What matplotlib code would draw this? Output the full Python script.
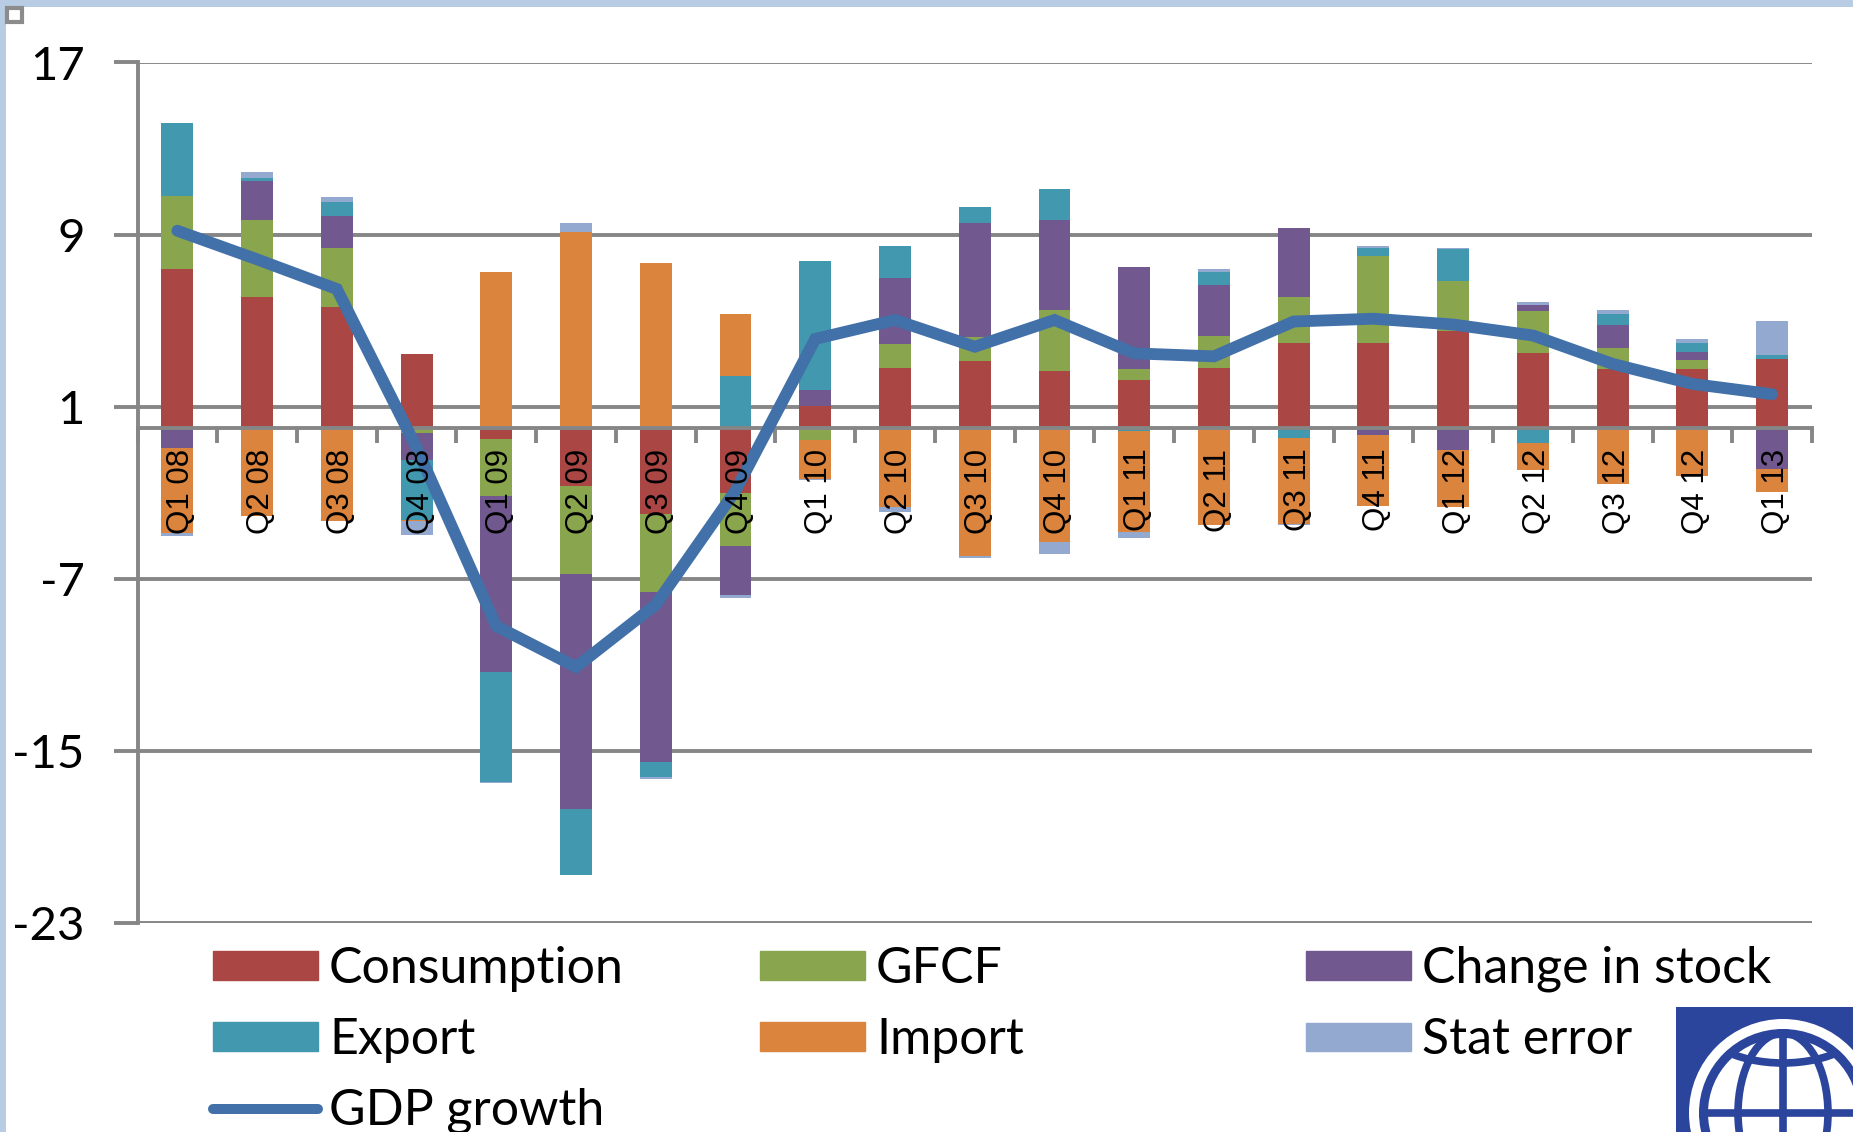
import numpy as np
import matplotlib
matplotlib.use("Agg")
import matplotlib.pyplot as plt
from matplotlib.patches import Patch, Rectangle, Circle, Ellipse
from matplotlib.lines import Line2D

quarters = ["Q1 08", "Q2 08", "Q3 08", "Q4 08", "Q1 09", "Q2 09", "Q3 09", "Q4 09",
            "Q1 10", "Q2 10", "Q3 10", "Q4 10", "Q1 11", "Q2 11", "Q3 11", "Q4 11",
            "Q1 12", "Q2 12", "Q3 12", "Q4 12", "Q1 13"]

consumption = [7.40, 6.09, 5.62, 3.46, -0.48, -2.70, -4.00, -3.03, 1.04, 2.80, 3.14,
               2.66, 2.23, 2.80, 3.97, 3.97, 4.50, 3.49, 2.73, 2.73, 3.20]
gfcf = [3.40, 3.58, 2.75, -0.22, -2.66, -4.10, -3.60, -2.45, -0.54, 1.13, 1.08,
        2.85, 0.53, 1.50, 2.14, 4.03, 2.34, 1.98, 1.00, 0.45, 0.00]
stock = [-0.90, 1.83, 1.48, -1.28, -8.20, -10.90, -7.90, -2.25, 0.73, 3.03, 5.33,
         4.18, 4.75, 2.38, 3.20, -0.30, -1.00, 0.28, 1.05, 0.36, -1.89]
export = [3.38, 0.15, 0.67, -2.76, -5.10, -3.05, -0.70, 2.41, 6.02, 1.49, 0.71,
          1.41, -0.14, 0.60, -0.47, 0.37, 1.47, -0.67, 0.54, 0.43, 0.19]
imports = [-3.96, -4.10, -4.30, -0.03, 7.24, 9.10, 7.68, 2.91, -1.81, -3.64, -5.93,
           -5.31, -4.70, -4.50, -3.98, -3.30, -2.67, -1.29, -2.60, -2.20, -1.07]
stat_error = [-0.13, 0.28, 0.22, -0.67, -0.05, 0.45, -0.10, -0.17, -0.08, -0.26, -0.11,
              -0.54, -0.25, 0.11, -0.05, 0.08, 0.08, 0.14, 0.19, 0.20, 1.60]
gdp = [9.18, 7.85, 6.47, -0.90, -9.20, -11.10, -8.20, -2.90, 4.15, 5.03, 3.79,
       5.03, 3.48, 3.34, 4.96, 5.09, 4.82, 4.31, 2.99, 2.06, 1.58]

y_ticks = [-23, -15, -7, 1, 9, 17]

GRAY = "#868686"
series = [("Consumption", consumption, "#AA4643"),
          ("GFCF", gfcf, "#89A54E"),
          ("Change in stock", stock, "#71588F"),
          ("Export", export, "#4198AF"),
          ("Import", imports, "#DB843D"),
          ("Stat error", stat_error, "#93A9CF")]
LINE = "#4270A8"
W, H = 1853, 1132

fig = plt.figure(figsize=(W / 100, H / 100), dpi=100, facecolor="white")
ax = fig.add_axes([137.5 / W, 1 - 923 / H, (1812 - 137.5) / W, (923 - 62.5) / H])

x = np.arange(len(quarters))
pos = np.zeros(len(quarters))
neg = np.zeros(len(quarters))
for name, vals, col in series:
    vals = np.array(vals)
    base = np.where(vals >= 0, pos, neg)
    ax.bar(x, vals, 0.4, bottom=base, color=col, linewidth=0, zorder=1)
    pos = pos + np.clip(vals, 0, None)
    neg = neg + np.clip(vals, None, 0)

ax.plot(x, gdp, color=LINE, lw=8.5, solid_capstyle="round", solid_joinstyle="miter", zorder=3)

ax.set_xlim(-0.5, len(quarters) - 0.5)
ax.set_ylim(-23, 17)
ax.set_axisbelow(True)
ax.set_yticks(y_ticks)
ax.set_yticklabels([str(v) for v in y_ticks], family="Lato", fontsize=34, color="black")
ax.tick_params(axis="y", length=17, width=2.8, color=GRAY, pad=21)
ax.yaxis.grid(True, color=GRAY, lw=2.8)

ax.set_xticks(np.arange(-0.5, len(quarters)))
ax.set_xticklabels([])
ax.tick_params(axis="x", length=11, width=2.8, color=GRAY, direction="out")
for s in ["top", "right"]:
    ax.spines[s].set_visible(False)
ax.spines["bottom"].set_position(("data", 0))
ax.spines["bottom"].set_color(GRAY)
ax.spines["bottom"].set_linewidth(2.8)
ax.spines["left"].set_color(GRAY)
ax.spines["left"].set_linewidth(2.8)

for xi, q in zip(x, quarters):
    ax.text(xi + 0.05, -0.95, q, rotation=90, ha="center", va="top", family="Liberation Sans",
            fontsize=22.5, color="black", zorder=10)

# legend, one block per column
handles = {n: Patch(color=c) for n, _, c in series}
handles["GDP growth"] = Line2D([], [], color=LINE, lw=7.2, solid_capstyle="round")
columns = [(["Consumption", "Export", "GDP growth"], 213),
           (["GFCF", "Import"], 760),
           (["Change in stock", "Stat error"], 1306)]
for names, left in columns:
    fig.legend([handles[n] for n in names], names, loc="upper left",
               bbox_to_anchor=(left / W, 1 - 946 / H), frameon=False,
               prop={"family": "Lato", "size": 36}, handlelength=2.1, handleheight=0.5,
               handletextpad=0.22, labelspacing=0.5, borderpad=0, borderaxespad=0)

# window frame and logo, in pixel coordinates
ov = fig.add_axes([0, 0, 1, 1], zorder=5)
ov.set_xlim(0, W)
ov.set_ylim(H, 0)
ov.axis("off")
ov.patch.set_alpha(0)
ov.add_patch(Rectangle((0, 0), W, 7, color="#B8CCE4", lw=0))
ov.add_patch(Rectangle((0, 0), 6, H, color="#B8CCE4", lw=0))
ov.add_patch(Rectangle((7, 8), 15, 14, fc="white", ec="#8C8C8C", lw=3))

BLUE = "#2B459C"
ov.add_patch(Rectangle((1676, 1007), W - 1676, H - 1007, color=BLUE, lw=0))
cx, cy = 1783, 1113
ov.add_patch(Circle((cx, cy), 94, color="white", lw=0))
ov.add_patch(Circle((cx, cy), 84, color=BLUE, lw=0))
ov.add_patch(Circle((cx, cy), 75, color="white", lw=0))
ov.add_patch(Ellipse((cx, cy), 90, 160, fc="none", ec=BLUE, lw=5.5))
ov.plot([cx, cx], [cy - 80, cy + 19], color=BLUE, lw=5.5)
ov.plot([cx - 80, W], [cy, cy], color=BLUE, lw=5.5)
ov.add_patch(Ellipse((cx, cy - 95), 170, 90, fc="none", ec=BLUE, lw=5.5, clip_path=Circle((cx, cy), 80, transform=ov.transData)))

fig.savefig("out.png", dpi=100)
